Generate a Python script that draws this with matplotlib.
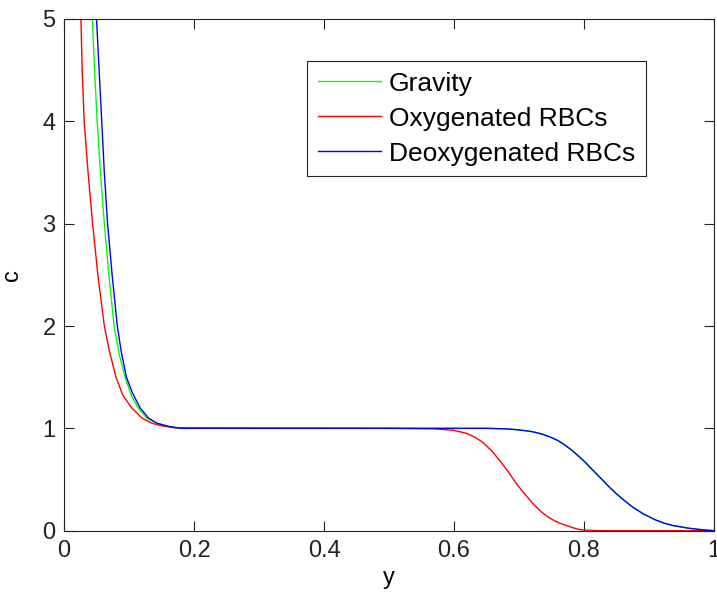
"""
Perfiles de concentración c(y) para gravedad y glóbulos rojos.
"""

import matplotlib
matplotlib.use("Agg")
import matplotlib.pyplot as plt

# datos
gravity_y = [0.0436, 0.047, 0.051, 0.056, 0.062, 0.069, 0.077, 0.085, 0.094, 0.103,
             0.114, 0.127, 0.143, 0.16, 0.18, 0.3, 0.5, 0.65, 0.68, 0.70, 0.72, 0.735,
             0.748, 0.76, 0.77, 0.78, 0.79, 0.80, 0.81, 0.82, 0.83, 0.84, 0.85, 0.86, 0.875,
             0.891, 0.91, 0.925, 0.937, 0.96, 0.98, 1.0]
gravity_c = [5.0, 4.5, 4.0, 3.5, 3.0, 2.5, 2.0, 1.72, 1.5, 1.33,
             1.2, 1.1, 1.05, 1.02, 1.0, 1.0, 1.0, 1.0, 0.995, 0.985, 0.968, 0.945,
             0.915, 0.88, 0.84, 0.792, 0.738, 0.68, 0.615, 0.55, 0.485, 0.42, 0.36, 0.305, 0.23,
             0.165, 0.105, 0.07, 0.05, 0.025, 0.01, 0.0]

oxy_y = [0.026, 0.028, 0.031, 0.037, 0.044, 0.052, 0.062, 0.070, 0.080, 0.090,
         0.104, 0.12, 0.135, 0.15, 0.17, 0.5, 0.57, 0.60, 0.62, 0.633, 0.645,
         0.658, 0.671, 0.684, 0.697, 0.71, 0.722, 0.735, 0.748, 0.76, 0.773,
         0.785, 0.794, 0.81, 0.83, 1.0]
oxy_c = [5.0, 4.5, 4.0, 3.5, 3.0, 2.5, 2.0, 1.75, 1.5, 1.33,
         1.2, 1.1, 1.05, 1.025, 1.005, 1.0, 0.995, 0.98, 0.95, 0.91, 0.86,
         0.78, 0.68, 0.57, 0.45, 0.35, 0.26, 0.18, 0.12, 0.08, 0.05,
         0.025, 0.01, 0.003, 0.0, 0.0]

deoxy_y = [0.050, 0.054, 0.058, 0.062, 0.067, 0.074, 0.082, 0.088, 0.096, 0.105,
           0.117, 0.13, 0.143, 0.16, 0.18, 0.3, 0.5, 0.65, 0.68, 0.70, 0.72, 0.735,
           0.748, 0.76, 0.77, 0.78, 0.79, 0.80, 0.81, 0.82, 0.83, 0.84, 0.85, 0.86, 0.875,
           0.891, 0.91, 0.925, 0.937, 0.96, 0.98, 1.0]
deoxy_c = [5.0, 4.5, 4.0, 3.5, 3.0, 2.5, 2.0, 1.75, 1.5, 1.35,
           1.2, 1.1, 1.05, 1.02, 1.0, 1.0, 1.0, 1.0, 0.995, 0.985, 0.968, 0.945,
           0.915, 0.88, 0.84, 0.792, 0.738, 0.68, 0.615, 0.55, 0.485, 0.42, 0.36, 0.305, 0.23,
           0.165, 0.105, 0.07, 0.05, 0.025, 0.01, 0.0]

x_ticks = [0, 0.2, 0.4, 0.6, 0.8, 1]
x_tick_labels = ["0", "0.2", "0.4", "0.6", "0.8", "1"]
y_ticks = [0, 1, 2, 3, 4, 5]

plt.rcParams["font.family"] = ["Liberation Sans", "DejaVu Sans"]

fig = plt.figure(figsize=(7.17, 6.01), dpi=100)
ax = fig.add_axes([0.0893, 0.117, 0.9065, 0.8514])

ax.plot(gravity_y, gravity_c, color=(0, 1, 0), lw=1.0, label="Gravity")
ax.plot(oxy_y, oxy_c, color=(1, 0, 0), lw=1.0, label="Oxygenated RBCs")
ax.plot(deoxy_y, deoxy_c, color=(0, 0, 1), lw=1.0, label="Deoxygenated RBCs")

ax.set_xlim(0, 1)
ax.set_ylim(0, 5)
ax.set_xticks(x_ticks)
ax.set_xticklabels(x_tick_labels)
ax.set_yticks(y_ticks)
ax.tick_params(direction="in", length=7, width=0.8, labelsize=17,
               top=True, right=True, colors="#222222")
ax.tick_params(axis="x", pad=7)
ax.tick_params(axis="y", pad=6)
for s in ax.spines.values():
    s.set_color("#222222")
    s.set_linewidth(0.8)

ax.set_xlabel("y", fontsize=17, labelpad=3)
ax.set_ylabel("c", fontsize=17, labelpad=14)

leg = ax.legend(loc="upper left", bbox_to_anchor=(0.374, 0.918), borderaxespad=0,
                fontsize=19, handlelength=2.4, handletextpad=0.3,
                labelspacing=0.42, borderpad=0.4, fancybox=False)
leg.get_frame().set_edgecolor("#222222")
leg.get_frame().set_linewidth(0.8)
leg.get_frame().set_alpha(1)

fig.savefig("out.png", dpi=100)
